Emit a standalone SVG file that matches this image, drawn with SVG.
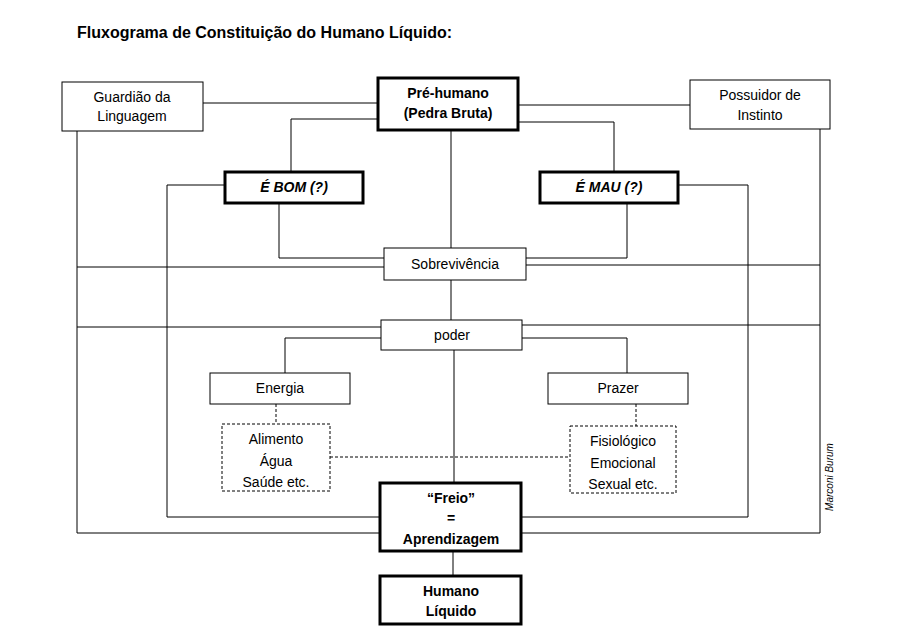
<svg xmlns="http://www.w3.org/2000/svg" width="907" height="643" viewBox="0 0 907 643">
<style>
text{font-family:"Liberation Sans",Arial,sans-serif;font-size:14px;fill:#000;text-anchor:middle}
.b{font-weight:bold}
.i{font-style:italic}
.box{fill:#fff;stroke:#000;stroke-width:1}
.thick{fill:#fff;stroke:#000;stroke-width:3}
.dash{fill:#fff;stroke:#000;stroke-width:1;stroke-dasharray:3,2}
#connectors path{fill:none;stroke:#000;stroke-width:1}
#connectors .d{stroke-dasharray:3,2}
</style>
<rect width="907" height="643" fill="#fff"/>
<text x="77" y="38" class="b" style="text-anchor:start;font-size:16px">Fluxograma de Constituição do Humano Líquido:</text>
<g id="connectors">
<path d="M203 103H377M518 105H690"/>
<path d="M377 119H291V171M518 122H614V171"/>
<path d="M451 130V248M451 280V320M454 350V482M453 552V575"/>
<path d="M224 185H167V517H379M522 517H748V185H678"/>
<path d="M279 203V258H384M627 203V258H526"/>
<path d="M77 131V533H379M522 533H820V129"/>
<path d="M77 267H384M526 265H820M77 327H381M522 325H820"/>
<path d="M381 338H285V373M522 338H627V373"/>
<path class="d" d="M276 404V424M636 404V426M330 457H570"/>
</g>
<g id="guardiao"><rect class="box" x="62" y="82" width="141" height="49"/><text x="132" y="102">Guardião da</text><text x="132" y="121">Linguagem</text></g>
<g id="prehumano"><rect class="thick" x="378" y="78" width="140" height="52"/><text class="b" x="448" y="98">Pré-humano</text><text class="b" x="448" y="118">(Pedra Bruta)</text></g>
<g id="possuidor"><rect class="box" x="690" y="80" width="140" height="49"/><text x="760" y="100">Possuidor de</text><text x="760" y="120">Instinto</text></g>
<g id="bom"><rect class="thick" x="225" y="172" width="138" height="31"/><text class="b i" x="294" y="192">É BOM (?)</text></g>
<g id="mau"><rect class="thick" x="540" y="172" width="138" height="31"/><text class="b i" x="609" y="192">É MAU (?)</text></g>
<g id="sobrev"><rect class="box" x="384" y="248" width="142" height="32"/><text x="455" y="269">Sobrevivência</text></g>
<g id="poder"><rect class="box" x="381" y="320" width="141" height="30"/><text x="452" y="340">poder</text></g>
<g id="energia"><rect class="box" x="210" y="373" width="140" height="31"/><text x="280" y="393">Energia</text></g>
<g id="prazer"><rect class="box" x="548" y="373" width="140" height="31"/><text x="618" y="393">Prazer</text></g>
<g id="alimento"><rect class="dash" x="222" y="424" width="108" height="67"/><text x="276" y="444">Alimento</text><text x="276" y="466">Água</text><text x="276" y="487">Saúde etc.</text></g>
<g id="fisio"><rect class="dash" x="570" y="426" width="106" height="67"/><text x="623" y="446">Fisiológico</text><text x="623" y="468">Emocional</text><text x="623" y="489">Sexual etc.</text></g>
<g id="freio"><rect class="thick" x="380" y="483" width="141" height="68"/><text class="b" x="451" y="503">“Freio”</text><text class="b" x="451" y="523">=</text><text class="b" x="451" y="544">Aprendizagem</text></g>
<g id="humano"><rect class="thick" x="380" y="576" width="141" height="48"/><text class="b" x="451" y="596">Humano</text><text class="b" x="451" y="616">Líquido</text></g>
<text class="i" x="0" y="0" style="font-size:10px" transform="translate(833 477) rotate(-90)">Marconi Burum</text>
</svg>
